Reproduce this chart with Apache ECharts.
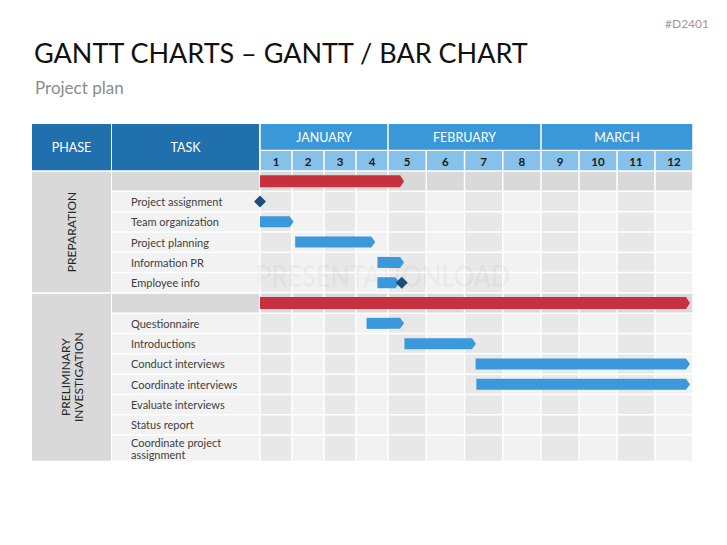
<!DOCTYPE html>
<html><head><meta charset="utf-8">
<script src="https://cdn.jsdelivr.net/npm/echarts@6/dist/echarts.min.js"></script>
<style>html,body{margin:0;padding:0;background:#fff}#c{width:727px;height:545px}</style>
</head><body><div id="c"></div>
<script>
// ---------- data ----------
const titleText = 'GANTT CHARTS – GANTT / BAR CHART';
const subtitleText = 'Project plan';
const codeText = '#D2401';
const watermarkText = 'PRESENTATIONLOAD';
const headerLabels = ['PHASE', 'TASK'];
const phases = ['PREPARATION', 'PRELIMINARY\nINVESTIGATION'];
const months = ['JANUARY', 'FEBRUARY', 'MARCH'];
const weeksPerMonth = [4, 4, 4];
const weekLabels = ['1', '2', '3', '4', '5', '6', '7', '8', '9', '10', '11', '12'];
const tasks = ['', 'Project assignment', 'Team organization', 'Project planning', 'Information PR', 'Employee info',
  '', 'Questionnaire', 'Introductions', 'Conduct interviews', 'Coordinate interviews', 'Evaluate interviews',
  'Status report', 'Coordinate project\nassignment'];
const taskPhase = [0, 0, 0, 0, 0, 0, 1, 1, 1, 1, 1, 1, 1, 1];
const summaryRows = [0, 6];
// [row, startWeek, endWeek] (weeks counted from 0 = start of week 1)
const summaryBars = [[0, 0, 4.42], [6, 0, 11.92]];
const taskBars = [[2, 0, 1.05], [3, 1.1, 3.6], [4, 3.67, 4.42], [5, 3.67, 4.3],
  [7, 3.33, 4.42], [8, 4.43, 6.3], [9, 6.29, 11.92], [10, 6.31, 11.92]];
// [row, week]
const milestones = [[1, 0], [5, 4.36]];

// ---------- layout / style ----------
const L = { phaseX0: 32, phaseX1: 111, taskX0: 112, taskX1: 259, headTop: 124, monthBottom: 150.5,
  weekTop: 151, bodyTop: 171, bodyBottom: 461.5, monthLeft: [260, 388, 541], monthRight: [388, 541, 693] };
const C = { head: '#1f70ad', month: '#3a98d9', week: '#86c1ea', weekText: '#1a1a1a', summaryBg: '#d9d9d9',
  odd: '#e8e8e8', even: '#f2f2f2', taskBg: '#f2f2f2', phaseBg: '#d9d9d9', red: '#c9303f', blue: '#3a98db',
  diamond: '#1d4e79', text: '#404040' };
const FONT = 'Lato';

const rowSpan = tasks.map(t => t.indexOf('\n') >= 0 ? 1.3 : 1);
const rowTop = []; let acc = 0; rowSpan.forEach(s => { rowTop.push(acc); acc += s; });
const totalRows = acc;
const weekStart = []; let ws = 0; weeksPerMonth.forEach(n => { weekStart.push(ws); ws += n; });
const g = 0.75;

const grids = [], xAxes = [], yAxes = [], series = [];
months.forEach((m, i) => {
  grids.push({ left: L.monthLeft[i], width: L.monthRight[i] - L.monthLeft[i], top: L.bodyTop, height: L.bodyBottom - L.bodyTop });
  const xmin = weekStart[i], xmax = weekStart[i] + weeksPerMonth[i];
  xAxes.push({ type: 'value', gridIndex: i, min: xmin, max: xmax, show: false });
  yAxes.push({ type: 'value', gridIndex: i, min: 0, max: totalRows, inverse: true, show: false });
  const base = { type: 'custom', xAxisIndex: i, yAxisIndex: i, silent: true, animation: false };
  // body cells
  const cellData = [];
  for (let w = xmin; w < xmax; w++) for (let r = 0; r < tasks.length; r++) cellData.push([w, r]);
  series.push(Object.assign({}, base, { z: 1, data: cellData, renderItem: (p, api) => {
    const w = api.value(0), r = api.value(1);
    const a = api.coord([w, rowTop[r]]), b = api.coord([w + 1, rowTop[r] + rowSpan[r]]);
    const fill = summaryRows.indexOf(r) >= 0 ? C.summaryBg : (w % 2 === 0 ? C.odd : C.even);
    return { type: 'rect', shape: { x: a[0] + g, y: a[1] + g, width: b[0] - a[0] - 2 * g, height: b[1] - a[1] - 2 * g }, style: { fill } };
  } }));
  // week header cells
  const wData = []; for (let w = xmin; w < xmax; w++) wData.push([w]);
  series.push(Object.assign({}, base, { z: 1, data: wData, renderItem: (p, api) => {
    const w = api.value(0);
    const x0 = api.coord([w, 0])[0], x1 = api.coord([w + 1, 0])[0];
    return { type: 'group', children: [
      { type: 'rect', shape: { x: x0 + g, y: L.weekTop, width: x1 - x0 - 2 * g, height: L.bodyTop - L.weekTop - g }, style: { fill: C.week } },
      { type: 'text', style: { text: weekLabels[w], x: (x0 + x1) / 2, y: (L.weekTop + L.bodyTop) / 2, align: 'center', verticalAlign: 'middle',
        fill: C.weekText, fontSize: 11.5, fontWeight: 'bold', fontFamily: FONT } }
    ] };
  } }));
  // month header cell
  series.push(Object.assign({}, base, { z: 1, data: [[i]], renderItem: (p, api) => {
    const x0 = api.coord([xmin, 0])[0], x1 = api.coord([xmax, 0])[0];
    return { type: 'group', children: [
      { type: 'rect', shape: { x: x0 + g, y: L.headTop, width: x1 - x0 - 2 * g, height: L.monthBottom - L.headTop - g }, style: { fill: C.month } },
      { type: 'text', style: { text: months[i], x: (x0 + x1) / 2, y: (L.headTop + L.monthBottom) / 2, align: 'center', verticalAlign: 'middle',
        fill: '#fff', fontSize: 12.5, fontFamily: FONT } }
    ] };
  } }));
  // bars
  const barData = summaryBars.map(b => [b[0], b[1], b[2], 1]).concat(taskBars.map(b => [b[0], b[1], b[2], 0]));
  series.push(Object.assign({}, base, { z: 3, data: barData, renderItem: (p, api) => {
    const r = api.value(0), s = api.value(1), e = api.value(2), red = api.value(3) === 1;
    const s2 = Math.max(s, xmin), e2 = Math.min(e, xmax);
    if (s2 >= e2) return null;
    const cy = api.coord([0, rowTop[r] + rowSpan[r] / 2])[1];
    const h = red ? 12 : 11, tip = 4;
    const x0 = api.coord([s2, 0])[0], x1 = api.coord([e2, 0])[0];
    const pts = e <= xmax
      ? [[x0, cy - h / 2], [x1 - tip, cy - h / 2], [x1, cy], [x1 - tip, cy + h / 2], [x0, cy + h / 2]]
      : [[x0, cy - h / 2], [x1 + 0.5, cy - h / 2], [x1 + 0.5, cy + h / 2], [x0, cy + h / 2]];
    return { type: 'polygon', shape: { points: pts }, style: { fill: red ? C.red : C.blue } };
  } }));
  // milestones
  series.push(Object.assign({}, base, { z: 4, data: milestones, renderItem: (p, api) => {
    const r = api.value(0), x = api.value(1);
    if (x < xmin || x >= xmax) return null;
    const pt = api.coord([x, rowTop[r] + rowSpan[r] / 2]);
    const d = 6;
    return { type: 'polygon', shape: { points: [[pt[0], pt[1] - d], [pt[0] + d, pt[1]], [pt[0], pt[1] + d], [pt[0] - d, pt[1]]] }, style: { fill: C.diamond } };
  } }));
});

// left columns (drawn with grid 0 y axis)
const base0 = { type: 'custom', xAxisIndex: 0, yAxisIndex: 0, silent: true, animation: false, z: 1 };
series.push(Object.assign({}, base0, { data: tasks.map((t, r) => [r]), renderItem: (p, api) => {
  const r = api.value(0);
  const y0 = api.coord([0, rowTop[r]])[1], y1 = api.coord([0, rowTop[r] + rowSpan[r]])[1];
  const fill = summaryRows.indexOf(r) >= 0 ? C.summaryBg : C.taskBg;
  return { type: 'group', children: [
    { type: 'rect', shape: { x: L.taskX0, y: y0 + g, width: L.taskX1 - L.taskX0, height: y1 - y0 - 2 * g }, style: { fill } },
    { type: 'text', style: { text: tasks[r], x: 131, y: (y0 + y1) / 2, align: 'left', verticalAlign: 'middle',
      fill: C.text, fontSize: 11, lineHeight: 12, fontFamily: FONT } }
  ] };
} }));
series.push(Object.assign({}, base0, { data: phases.map((ph, i) => [i]), renderItem: (p, api) => {
  const i = api.value(0);
  const rows = taskPhase.map((ph, r) => ph === i ? r : -1).filter(r => r >= 0);
  const first = rows[0], last = rows[rows.length - 1];
  const y0 = api.coord([0, rowTop[first]])[1], y1 = api.coord([0, rowTop[last] + rowSpan[last]])[1];
  return { type: 'group', children: [
    { type: 'rect', shape: { x: L.phaseX0, y: y0 + g, width: L.phaseX1 - L.phaseX0, height: y1 - y0 - 2 * g }, style: { fill: C.phaseBg } },
    { type: 'text', x: (L.phaseX0 + L.phaseX1) / 2, y: (y0 + y1) / 2, rotation: Math.PI / 2,
      style: { text: phases[i], x: 0, y: 0, align: 'center', verticalAlign: 'middle', fill: '#262626', fontSize: 12, lineHeight: 13, fontFamily: FONT } }
  ] };
} }));
series.push(Object.assign({}, base0, { data: [[0], [1]], renderItem: (p, api) => {
  const i = api.value(0);
  const x0 = i === 0 ? L.phaseX0 : L.taskX0, x1 = i === 0 ? L.phaseX1 : L.taskX1;
  return { type: 'group', children: [
    { type: 'rect', shape: { x: x0, y: L.headTop, width: x1 - x0, height: L.bodyTop - L.headTop - g }, style: { fill: C.head } },
    { type: 'text', style: { text: headerLabels[i], x: (x0 + x1) / 2, y: (L.headTop + L.bodyTop) / 2, align: 'center', verticalAlign: 'middle',
      fill: '#fff', fontSize: 12.5, fontFamily: FONT } }
  ] };
} }));

const chart = echarts.init(document.getElementById('c'), null, { renderer: 'svg' });
chart.setOption({
  backgroundColor: '#fff',
  animation: false,
  title: [
    { text: titleText, left: 29, top: 34, textStyle: { fontFamily: FONT, fontSize: 27, fontWeight: 'normal', color: '#111' } },
    { text: subtitleText, left: 30, top: 74, textStyle: { fontFamily: FONT, fontSize: 17, fontWeight: 'normal', color: '#8c8c8c' } },
    { text: codeText, right: 13, top: 12, textStyle: { fontFamily: FONT, fontSize: 12, fontWeight: 'normal', color: '#9a9a9a' } }
  ],
  graphic: [{ type: 'text', left: 256, top: 261, z: 2, silent: true, scaleX: 0.84,
    style: { text: watermarkText, fontSize: 30, fontWeight: 'bold', fontFamily: FONT, fill: 'rgba(0,0,0,0.045)' } }],
  grid: grids, xAxis: xAxes, yAxis: yAxes, series
});
</script></body></html>
